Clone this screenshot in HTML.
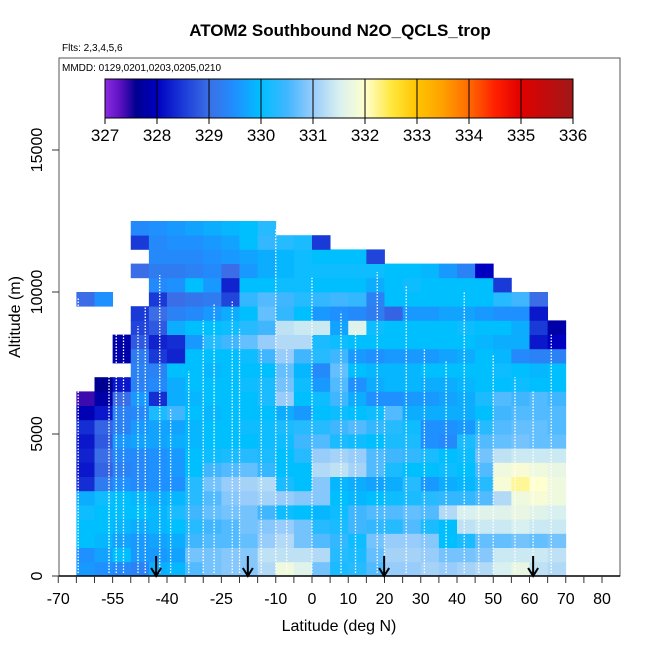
<!DOCTYPE html>
<html><head><meta charset="utf-8">
<style>
html,body{margin:0;padding:0;background:#fff;}
svg{display:block;font-family:"Liberation Sans",Arial,sans-serif;}
</style></head>
<body>
<svg id="chart" width="650" height="650" viewBox="0 0 650 650">
<defs>
<linearGradient id="cbgrad" x1="0" x2="1" y1="0" y2="0"></linearGradient>
<clipPath id="plotclip"><rect x="59" y="58" width="561" height="518"/></clipPath>
</defs>
<text x="340" y="36" text-anchor="middle" font-size="17" font-weight="bold">ATOM2 Southbound N2O_QCLS_trop</text>
<text x="62" y="51" font-size="10">Flts: 2,3,4,5,6</text>
<g id="cells" clip-path="url(#plotclip)"></g>
<g id="profiles" clip-path="url(#plotclip)"></g>
<rect x="59" y="58" width="561" height="518" fill="none" stroke="#555" stroke-width="1"/>
<text x="62" y="71" font-size="10">MMDD: 0129,0201,0203,0205,0210</text>
<g id="colorbar"></g>
<g id="xaxis"></g>
<g id="yaxis"></g>
<g id="arrows"></g>
<text x="339" y="631" text-anchor="middle" font-size="16">Latitude (deg N)</text>
<text transform="translate(20,317) rotate(-90)" text-anchor="middle" font-size="16">Altitude (m)</text>
</svg>
<script>
const N=null;
const xTicks=[-70,-65,-60,-55,-50,-45,-40,-35,-30,-25,-20,-15,-10,-5,0,5,10,15,20,25,30,35,40,45,50,55,60,65,70,75,80];
const xTickLabels=["-70","","","-55","","","-40","","","-25","","","-10","","0","","10","","20","","30","","40","","50","","60","","70","","80"];
const yTicks=[0,5000,10000,15000];
const cbTicks=[327,328,329,330,331,332,333,334,335,336];
const latStart=-65, latStep=5, altStep=500;
const arrowLats=[-43,-17.7,19.9,61];
const profLat=[-64.5,-56,-54,-52,-48,-46,-42,-39,-34,-30,-27,-22,-20,-14,-10,-7,0,8,12,18,20,26,31,37,42,46,50,56,61,66,70.5];
const profTop=[9800,7700,8900,8500,8800,9600,10600,5900,7200,9000,9600,9700,8700,8000,12200,8000,10500,9300,8600,10700,6000,10200,8000,7600,10000,5500,7800,7000,6500,8500,5500];
// rows from 0-500 m upward; 27 columns from -65 to 70 deg in 5 deg bins
const rows=[
[329.6,329.5,329.4,329.3,329.8,329.9,330.6,330.8,330.9,330.9,331.2,331.8,331.6,330.8,330.2,330.3,330.6,331.0,331.0,331.1,331.0,331.1,331.2,331.5,331.7,331.3,331.2],
[329.5,329.7,330.0,329.6,329.6,329.7,330.8,330.8,330.9,330.9,331.3,331.3,331.3,331.2,330.3,330.2,330.7,331.1,331.1,331.0,330.8,330.8,330.9,331.4,331.4,331.4,331.3],
[330.0,329.9,329.7,329.6,329.7,329.8,330.5,330.6,330.6,330.7,331.0,331.2,330.8,330.6,330.4,330.1,330.8,331.0,331.0,330.9,330.0,330.2,330.7,330.7,330.8,330.7,330.8],
[330.0,330.0,329.9,329.8,329.9,330.0,330.3,330.5,330.6,330.8,330.9,331.0,330.8,330.3,330.2,330.5,330.4,330.3,330.6,330.2,330.0,331.3,331.4,331.4,331.5,331.4,331.4],
[330.1,330.0,330.0,330.0,329.9,330.2,330.5,330.7,330.8,330.8,330.5,330.1,330.0,329.9,330.1,330.5,330.6,330.6,330.7,330.6,331.2,331.5,331.6,331.6,331.7,331.6,331.5],
[329.8,330.1,330.0,329.9,329.8,329.9,330.3,330.6,330.9,331.0,331.1,331.0,330.9,330.9,330.0,329.9,330.0,330.1,330.2,330.3,330.4,330.4,330.6,331.2,331.8,331.9,331.8],
[328.4,329.2,329.5,329.4,329.5,329.5,330.3,330.8,331.0,331.1,331.2,330.2,330.0,330.9,329.9,329.8,329.7,329.8,330.3,329.6,329.8,329.9,330.3,331.9,332.2,332.0,331.8],
[328.2,328.9,329.3,329.4,329.5,329.6,330.0,330.5,330.6,330.7,330.4,330.0,330.0,331.2,331.3,331.1,330.6,330.2,330.0,330.0,330.1,330.0,330.6,331.8,331.9,331.8,331.7],
[328.3,329.0,329.4,329.4,329.5,329.6,330.0,330.1,330.2,330.3,330.2,330.0,330.3,331.0,331.1,331.0,330.6,330.5,330.4,330.2,330.0,330.1,330.8,331.3,331.4,331.4,331.4],
[328.2,328.8,329.6,329.7,329.7,329.8,329.9,330.0,330.0,330.0,330.1,330.1,330.5,330.6,330.2,330.1,330.0,330.2,330.2,329.5,329.4,330.2,330.6,330.7,330.8,330.7,330.7],
[328.4,328.9,329.3,329.6,329.7,329.7,329.9,330.0,330.0,330.1,330.1,330.2,330.3,330.3,330.5,330.6,330.4,330.3,330.1,329.5,329.5,329.6,330.3,330.6,330.7,330.7,330.6],
[327.9,328.2,329.3,329.4,330.2,330.5,330.0,329.9,330.0,330.0,330.0,329.8,329.6,330.0,330.1,330.0,330.1,330.6,329.8,329.8,329.8,329.8,330.0,330.5,330.6,330.6,330.6],
[327.4,327.8,329.0,329.6,328.4,329.8,329.9,330.0,330.0,330.0,330.2,331.0,330.0,330.1,330.5,329.8,329.5,329.5,329.6,329.6,329.7,329.8,330.2,330.6,330.5,330.6,330.5],
[N,327.6,328.2,329.3,329.4,329.8,330.0,330.0,330.0,330.1,330.2,330.8,330.1,329.6,330.6,329.5,329.8,329.9,329.9,329.8,329.8,329.9,330.0,330.0,330.1,330.0,330.0],
[N,N,N,329.3,329.3,330.0,330.0,329.9,330.0,330.0,330.0,330.7,329.9,329.4,330.7,330.0,329.9,329.9,329.9,330.0,330.0,330.0,330.0,330.1,330.0,329.9,330.0],
[N,N,327.8,329.2,328.5,328.3,330.0,330.0,330.0,330.1,330.5,331.0,330.5,330.3,330.5,329.6,329.5,329.6,329.6,329.6,329.7,329.8,330.0,329.9,329.4,329.3,329.3],
[N,N,327.8,328.8,328.3,328.4,329.6,330.3,330.5,330.7,331.0,331.2,331.2,330.2,330.1,330.0,330.0,330.0,330.0,330.0,330.0,330.0,329.9,329.8,329.8,328.2,328.0],
[N,N,N,328.6,328.8,329.8,330.0,330.0,330.1,330.3,330.5,331.3,331.4,331.4,329.7,331.6,330.1,330.0,330.0,330.0,330.0,330.1,330.0,330.0,329.8,328.5,327.8],
[N,N,N,328.5,329.0,329.3,329.4,329.6,329.8,330.0,330.7,330.4,330.0,329.6,329.5,329.4,329.2,328.9,329.6,329.6,329.7,329.7,329.6,329.5,329.5,328.2,N],
[329.0,329.5,N,N,328.5,329.0,329.1,329.2,328.6,330.4,330.6,330.5,330.3,330.4,330.5,330.4,329.3,330.0,330.0,330.0,330.0,330.0,330.0,330.3,330.5,329.0,N],
[N,N,N,N,329.4,329.5,330.0,329.6,328.3,330.0,330.0,330.1,330.1,330.0,330.0,330.0,329.8,330.0,330.1,330.0,330.0,330.0,330.0,328.5,N,N,N],
[N,N,N,329.0,329.2,329.2,329.3,329.4,329.0,329.6,329.8,329.9,330.1,330.1,330.1,330.1,330.1,330.0,330.0,329.9,329.6,329.3,328.0,N,N,N,N],
[N,N,N,N,329.4,329.4,329.4,329.5,329.6,329.7,329.8,329.9,330.1,330.0,330.0,330.0,328.6,N,N,N,N,N,N,N,N,N,N],
[N,N,N,328.5,329.4,329.5,329.5,329.6,329.7,330.0,330.4,330.3,330.2,328.5,N,N,N,N,N,N,N,N,N,N,N,N,N],
[N,N,N,329.4,329.5,329.6,329.7,329.8,329.9,330.0,330.3,N,N,N,N,N,N,N,N,N,N,N,N,N,N,N,N]
];
const stops=[[327.0,"#8a2be2"],[327.3,"#5a10c0"],[327.6,"#000090"],[328.0,"#0000c0"],[328.5,"#1a3ad8"],[329.0,"#3b6ee6"],[329.5,"#1e90ff"],[330.0,"#00bfff"],[330.5,"#40b6ff"],[331.0,"#98ccfa"],[331.5,"#d8f0f0"],[332.0,"#ffffd0"],[332.5,"#ffe840"],[333.0,"#ffc400"],[333.5,"#ffa000"],[334.0,"#ff6a00"],[334.5,"#ff2000"],[335.0,"#e00000"],[336.0,"#a01818"]];
const NS="http://www.w3.org/2000/svg";
const X=lat=>312+3.625*lat;
const Y=alt=>576-alt*142/5000;
const CB=v=>105+(v-327)*52;
function hex(h){return [1,3,5].map(i=>parseInt(h.substr(i,2),16));}
function color(v){
  if(v<=stops[0][0])return stops[0][1];
  for(let i=1;i<stops.length;i++){
    if(v<=stops[i][0]){
      const a=hex(stops[i-1][1]),b=hex(stops[i][1]),t=(v-stops[i-1][0])/(stops[i][0]-stops[i-1][0]);
      return "rgb("+a.map((c,k)=>Math.round(c+(b[k]-c)*t)).join(",")+")";
    }
  }
  return stops[stops.length-1][1];
}
function mk(tag,attrs,parent){const e=document.createElementNS(NS,tag);for(const k in attrs)e.setAttribute(k,attrs[k]);parent.appendChild(e);return e;}
const cg=document.getElementById('cells');
rows.forEach((row,r)=>{
  row.forEach((v,c)=>{
    if(v===null||v===undefined)return;
    const x0=X(latStart+c*latStep),x1=X(latStart+(c+1)*latStep);
    const y0=Y((r+1)*altStep),y1=Y(r*altStep);
    const e=mk('rect',{x:x0.toFixed(2),y:y0.toFixed(2),width:(x1-x0+0.4).toFixed(2),height:(y1-y0+0.4).toFixed(2),fill:color(v)},cg);
    
    
  });
});
const pg=document.getElementById('profiles');
profLat.forEach((lat,i)=>{
  const e=mk('line',{x1:X(lat),y1:Y(0)-3,x2:X(lat),y2:Y(profTop[i]),stroke:"#fff","stroke-width":1.3,"stroke-dasharray":"1.5 1.5"},pg);
  
  
});
const gr=document.getElementById('cbgrad');
for(let v=327;v<=336.001;v+=0.1){mk('stop',{offset:((v-327)/9).toFixed(4),"stop-color":color(v)},gr);}
const cbg=document.getElementById('colorbar');
const bar=mk('rect',{x:CB(327),y:79,width:CB(336)-CB(327),height:39,fill:"url(#cbgrad)",stroke:"#000","stroke-width":1},cbg);


cbTicks.forEach(v=>{
  const l=mk('line',{x1:CB(v),y1:79,x2:CB(v),y2:124,stroke:"#000","stroke-width":1},cbg);
  
  
  const t=mk('text',{x:CB(v),y:141,"text-anchor":"middle","font-size":17},cbg);
  t.textContent=v;
  
  
});
const xg=document.getElementById('xaxis');
const ax=mk('line',{x1:59,y1:576,x2:620,y2:576,stroke:"#000","stroke-width":1.5},xg);


xTicks.forEach((v,i)=>{
  const l=mk('line',{x1:X(v),y1:576,x2:X(v),y2:583,stroke:"#333","stroke-width":1},xg);
  
  
  if(xTickLabels[i]){
    const t=mk('text',{x:X(v),y:604,"text-anchor":"middle","font-size":16},xg);
    t.textContent=xTickLabels[i];
    
    
  }
});
const yg=document.getElementById('yaxis');
yTicks.forEach(v=>{
  const l=mk('line',{x1:52,y1:Y(v),x2:59,y2:Y(v),stroke:"#333","stroke-width":1},yg);
  
  
  const t=mk('text',{transform:"translate(42,"+Y(v)+") rotate(-90)","text-anchor":"middle","font-size":16},yg);
  t.textContent=v;
  
  
});
const ag=document.getElementById('arrows');
arrowLats.forEach(lat=>{
  const x=X(lat);
  const p=mk('path',{d:"M"+x+",556 L"+x+",576 M"+(x-5)+",568 L"+x+",576 L"+(x+5)+",568",stroke:"#000","stroke-width":2,fill:"none"},ag);
  
  
});
</script>
</body></html>
